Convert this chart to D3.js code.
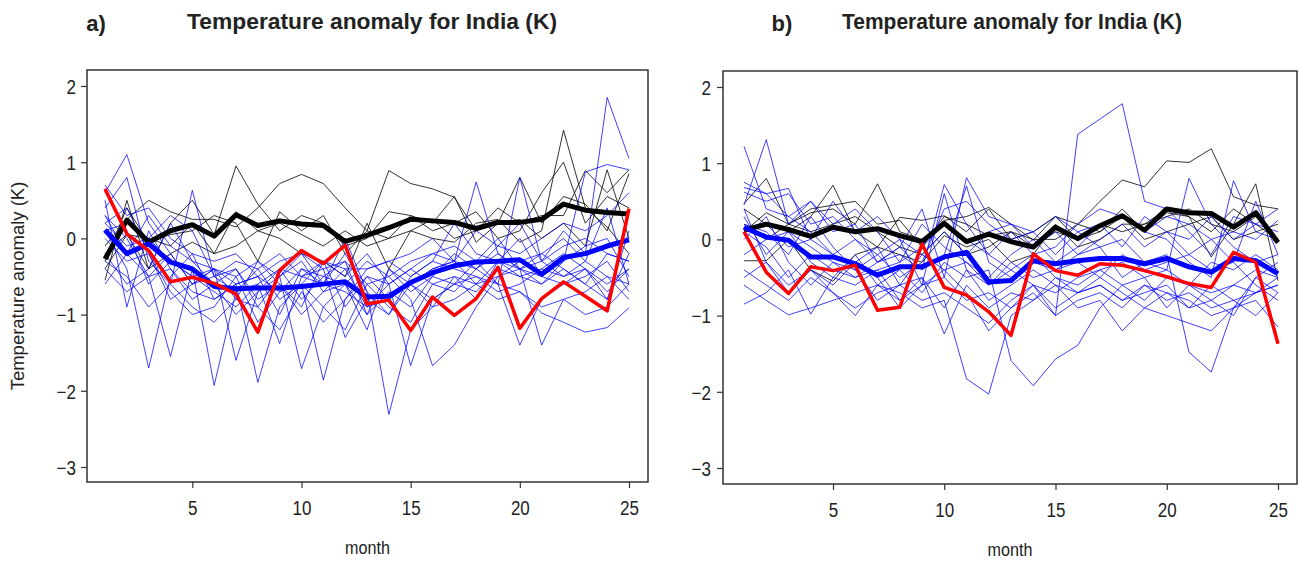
<!DOCTYPE html>
<html>
<head>
<meta charset="utf-8">
<script src="https://cdn.jsdelivr.net/npm/d3@7"></script>
<style>
  html, body { margin: 0; padding: 0; background: #fff; }
  svg { display: block; }
  text { font-family: "Liberation Sans", Arial, sans-serif; fill: #222; }
</style>
</head>
<body>
<svg id="chart" width="1299" height="561"></svg>
<script>
// ---- data -------------------------------------------------------------
const months = d3.range(1, 26);
const xTickValues = [5, 10, 15, 20, 25];
const yTickValues = [-3, -2, -1, 0, 1, 2];

// Panel a
const obsA = [0.65, 0.06, -0.16, -0.57, -0.51, -0.59, -0.73, -1.23, -0.42, -0.16, -0.33, -0.09, -0.86, -0.81, -1.21, -0.77, -1.01, -0.79, -0.38, -1.18, -0.79, -0.57, -0.76, -0.95, 0.39];
const ctrlMeanA = [-0.27, 0.24, -0.05, 0.10, 0.18, 0.03, 0.31, 0.17, 0.23, 0.19, 0.17, -0.04, 0.04, 0.14, 0.25, 0.23, 0.21, 0.13, 0.21, 0.21, 0.25, 0.45, 0.37, 0.34, 0.32];
const ensMeanA = [0.11, -0.20, -0.07, -0.31, -0.40, -0.63, -0.66, -0.65, -0.65, -0.63, -0.60, -0.57, -0.77, -0.76, -0.58, -0.45, -0.36, -0.31, -0.30, -0.28, -0.47, -0.25, -0.20, -0.10, -0.02];
const ctrlMembersA = [
  [-0.55, 0.50, -0.40, 0.20, 0.50, 0.05, 0.95, 0.45, 0.10, 0.30, 0.20, -0.10, 0.00, 0.35, 0.30, 0.20, 0.55, -0.05, 0.20, 0.80, 0.20, 0.55, 0.45, 0.10, 0.85],
  [-0.10, 0.25, 0.50, 0.35, 0.25, 0.25, 0.15, 0.40, 0.72, 0.84, 0.72, 0.40, 0.10, 0.00, 0.30, 0.10, 0.20, 0.35, 0.00, 0.10, 0.60, 1.00, 0.20, 0.55, 0.40],
  [-0.30, 0.40, -0.05, 0.05, 0.10, 0.30, 0.20, -0.30, 0.35, 0.10, 0.30, -0.20, 0.10, 0.89, 0.72, 0.65, 0.54, 0.10, 0.40, 0.20, 0.30, 0.30, 0.89, 0.60, 0.90],
  [-0.40, 0.05, 0.00, -0.10, 0.20, -0.20, 0.35, 0.10, 0.20, 0.05, -0.10, 0.10, -0.10, 0.00, 0.10, 0.00, -0.05, 0.20, 0.25, -0.05, 0.10, 1.42, 0.40, 0.15, -0.20],
  [-0.20, 0.05, -0.40, -0.20, -0.05, -0.20, -0.10, 0.10, 0.00, -0.20, -0.30, -0.50, 0.20, -0.40, 0.10, 0.25, 0.00, 0.10, 0.20, 0.25, 0.00, 0.20, -0.10, 0.90, 0.00]
];
const ensMembersA = [
  [0.60, 1.10, 0.20, -0.20, -0.60, -0.40, -0.80, -0.30, -0.60, -0.90, -0.30, -0.50, -0.20, -0.60, -0.40, -0.20, -0.10, -0.30, 0.00, -0.40, -0.30, 0.10, -0.20, 1.85, 1.05],
  [0.40, 0.80, -0.30, -0.60, 0.63, -0.50, -0.40, -0.90, -0.50, -0.30, -0.70, -0.40, -0.90, -0.80, -0.60, -0.40, -0.30, 0.74, -0.20, -0.40, -0.60, -0.30, 0.87, 0.97, 0.90],
  [0.10, -0.40, -1.70, -0.50, -0.20, -0.80, -0.60, -0.50, -1.00, -0.40, -0.60, 0.00, -0.70, -2.31, -1.20, -0.90, -0.50, -0.60, -0.30, -0.50, -0.40, -0.20, -0.40, -0.60, -0.40],
  [-0.60, -0.20, -0.50, -1.55, -0.40, -1.93, -0.70, -0.40, -0.80, -0.60, -0.30, -0.90, -0.50, -0.60, -1.67, -0.80, -0.60, -0.30, -0.60, -1.40, -0.80, -0.60, -0.50, -0.30, -0.70],
  [0.20, -0.10, 0.00, -0.30, -0.50, -0.40, -1.60, -0.70, -0.50, -1.71, -0.90, -0.60, -0.30, -0.50, -0.80, -1.67, -1.40, -0.90, -0.50, -0.40, -1.40, -0.80, -0.70, -0.50, -0.60],
  [0.30, 0.00, -0.50, -0.40, -0.70, -0.80, -0.60, -1.89, -0.90, -0.60, -1.86, -0.80, -0.40, -0.30, -0.50, -0.30, -0.40, -0.50, -0.60, -0.70, -0.98, -1.10, -1.23, -1.17, -0.91],
  [0.00, -0.30, -0.20, -0.80, -0.60, -0.50, -0.70, -0.60, -1.38, -0.50, -0.40, -1.30, -0.80, -1.00, -0.50, -0.30, 0.20, -0.20, -0.30, 0.00, -0.50, -0.30, -0.10, 0.00, -0.50],
  [0.70, 0.30, 0.40, 0.00, -0.20, -0.30, -0.20, -0.50, -0.30, -0.20, -0.40, -0.30, -0.60, -0.50, -0.30, -0.20, -0.30, 0.10, -0.10, -0.20, 0.00, 0.20, 0.10, 0.30, 0.60],
  [-0.20, -0.60, -0.40, 0.20, -0.30, -0.60, -0.40, -0.80, -0.60, -1.00, -0.70, -0.60, -1.20, -0.40, -0.70, -0.50, -0.20, -0.40, -0.60, 0.80, -0.30, -0.50, -0.40, -0.80, 0.10],
  [0.50, -0.90, 0.10, -0.40, -0.80, -0.60, -1.00, -0.70, -0.40, -0.80, -0.50, -0.30, -1.00, -0.70, -0.90, -0.50, -0.60, -0.70, -0.40, -0.50, -0.60, -0.40, -0.60, -0.20, -0.30],
  [0.20, 0.40, -0.20, -0.70, -1.00, -0.90, -0.50, -1.10, -0.70, -0.60, -0.90, -1.20, -0.60, -0.90, -1.10, -0.60, -0.70, -0.40, -0.20, -0.40, -0.20, 0.00, -0.30, -0.50, -0.80],
  [-0.30, -0.50, -0.90, -0.60, -0.90, -1.10, -0.80, -0.90, -1.20, -0.70, -1.10, -0.80, -0.50, -0.80, -0.60, -0.90, -0.80, -0.60, -0.80, -0.70, -0.90, -0.80, -1.00, -0.90, -0.60],
  [0.10, 0.20, 0.00, 0.30, 0.10, -0.50, -0.30, -0.40, -0.20, -0.50, -0.30, -0.40, -0.40, -0.30, -0.20, 0.00, -0.30, -0.40, -0.10, 0.20, -0.30, -0.10, 0.00, -0.20, -0.30],
  [0.65, 0.10, -0.60, -0.30, -0.50, -0.70, -0.90, -0.60, -0.40, -0.50, -0.60, -0.70, -0.90, -0.60, -0.40, -0.60, -0.50, -0.80, -0.30, -0.40, -0.50, -0.60, -0.40, -0.70, -0.40],
  [-0.40, -0.70, -0.50, -0.20, -0.60, -0.40, -0.50, -0.30, -0.50, -0.20, -0.60, -0.20, -0.70, -1.00, -0.60, -0.40, -0.30, -0.60, -0.50, -0.30, -0.20, -0.40, -0.60, -0.80, -0.20],
  [0.30, -0.20, 0.30, -0.10, -0.30, -0.40, -0.60, -0.50, -0.70, -0.40, -0.50, -0.60, -1.00, -0.40, -0.60, -0.80, -0.60, -0.50, -0.70, -0.60, -0.40, -0.50, -0.30, 0.40, -0.60]
];

// Panel b
const obsB = [0.10, -0.43, -0.71, -0.36, -0.41, -0.34, -0.93, -0.89, -0.06, -0.63, -0.73, -0.95, -1.26, -0.19, -0.41, -0.47, -0.32, -0.34, -0.41, -0.49, -0.58, -0.63, -0.17, -0.30, -1.37];
const ctrlMeanB = [0.12, 0.20, 0.13, 0.04, 0.16, 0.10, 0.14, 0.05, -0.03, 0.21, -0.03, 0.07, -0.03, -0.10, 0.16, 0.01, 0.18, 0.31, 0.12, 0.40, 0.35, 0.34, 0.16, 0.35, -0.04];
const ensMeanB = [0.16, 0.03, -0.01, -0.23, -0.23, -0.32, -0.47, -0.36, -0.36, -0.23, -0.17, -0.56, -0.54, -0.28, -0.32, -0.28, -0.25, -0.25, -0.32, -0.25, -0.36, -0.43, -0.25, -0.28, -0.45];
const ctrlMembersB = [
  [0.47, 0.80, 0.20, 0.35, 0.40, 0.20, 0.73, 0.10, 0.00, 0.25, 0.30, 0.42, 0.20, -0.01, 0.30, 0.20, 0.50, 0.78, 0.69, 1.03, 1.01, 1.19, 0.56, 0.45, 0.40],
  [-0.28, -0.28, 0.00, -0.40, -0.55, -0.20, -0.10, 0.29, 0.25, 0.31, 0.10, 0.40, 0.00, 0.10, 0.30, 0.00, 0.10, 0.40, 0.10, 0.35, 0.30, -0.23, 0.20, 0.73, -0.54],
  [0.40, 0.20, 0.10, 0.30, 0.71, 0.10, -0.10, -0.20, -0.30, 0.05, -0.10, 0.00, -0.30, -0.20, 0.20, -0.10, 0.00, 0.20, 0.20, 0.30, 0.40, 0.20, 0.10, 0.30, 0.00],
  [0.10, 0.35, 0.20, 0.40, 0.45, 0.50, 0.20, 0.25, -0.10, 0.30, 0.20, 0.05, 0.10, 0.00, 0.00, 0.20, 0.10, 0.30, 0.00, 0.10, 0.20, 0.30, 0.00, 0.10, 0.20],
  [0.20, 0.00, 0.20, 0.10, 0.20, 0.30, 0.10, -0.10, -0.20, 0.10, -0.20, -0.10, 0.10, -0.10, 0.10, 0.00, 0.20, 0.10, 0.20, 0.40, 0.30, 0.10, 0.40, 0.20, 0.00]
];
const ensMembersB = [
  [1.22, 0.40, 0.30, 0.10, -0.20, 0.00, -0.30, -0.10, -0.40, 0.72, 0.20, -0.20, -0.40, -0.60, -1.00, 1.38, 1.58, 1.78, 0.50, 0.40, 0.10, -0.20, 0.30, 0.20, 0.40],
  [0.45, 1.31, 0.20, 0.50, 0.10, 0.20, -0.30, -0.10, 0.40, -0.50, 0.81, 0.30, 0.20, 0.10, 0.30, 0.10, 0.20, 0.30, 0.10, 0.00, -0.30, -0.50, 0.77, 0.10, 0.00],
  [0.75, 0.60, 0.67, 0.00, -0.20, -0.30, -0.10, -0.60, -0.20, -0.40, -0.30, -0.60, -0.30, -0.50, -0.40, -0.20, -0.10, -0.50, -0.30, -0.40, 0.80, 0.20, -0.10, -0.30, -0.20],
  [-0.85, -0.70, -0.40, -0.98, -0.50, -0.60, -0.40, -0.80, -0.50, -1.24, -0.60, -0.90, -0.70, -0.80, -0.50, -0.70, -0.60, -0.80, -0.60, -0.70, -0.90, -0.60, -0.80, -0.70, -0.60],
  [-0.60, -0.80, -0.99, -0.90, -0.80, -0.70, -0.60, -0.70, -0.90, -0.80, -1.83, -2.03, -1.00, -0.80, -0.60, -0.90, -0.80, -1.20, -0.90, -0.70, -0.80, -1.00, -0.90, -0.80, -1.15],
  [0.30, -0.20, 0.10, -0.30, -0.50, -0.20, -0.60, -0.40, -0.70, -0.30, -0.50, -0.40, -1.59, -1.92, -1.57, -1.39, -0.90, -0.60, -0.80, -0.50, -0.60, -0.70, -0.60, -0.40, -0.50],
  [0.62, 0.50, 0.60, 0.20, 0.30, 0.00, -0.20, -0.50, -0.30, 0.40, 0.50, 0.20, 0.00, 0.10, -0.20, 0.10, -0.10, 0.00, -0.30, -0.20, -1.48, -1.74, -0.90, -0.50, -0.70],
  [-0.50, -0.30, -0.60, -0.40, -0.70, -1.00, -0.60, -0.80, -0.60, -0.40, -0.70, -1.20, -0.90, -0.60, -0.70, -0.50, -0.40, -0.60, -0.50, -0.90, -0.60, -0.80, -1.00, -0.50, -0.30],
  [0.10, -0.10, -0.50, -0.20, -0.40, -0.50, -0.30, -0.20, -0.40, -0.20, 0.70, -0.30, -0.50, -0.30, -0.40, -0.30, -0.50, -0.20, -0.40, -0.30, -0.20, -0.40, -0.30, -0.60, -0.80],
  [0.20, 0.10, -0.20, 0.30, -0.10, -0.40, -0.20, 0.00, -0.60, 0.60, -0.40, -0.80, -0.60, -0.40, -0.60, -0.70, -0.50, -0.70, -0.90, -1.00, -1.10, -1.20, -0.90, -0.70, -0.60],
  [0.00, 0.30, -0.30, -0.60, -0.30, -0.40, -0.80, -0.60, -0.50, -0.90, -0.40, -0.60, -0.40, -0.20, -0.50, -0.60, -0.40, -0.30, -0.50, -0.40, -0.60, -0.30, -0.40, -0.20, -0.40],
  [-0.20, 0.00, 0.10, -0.10, -0.30, -0.50, -0.40, -0.30, 0.20, -0.10, -0.30, -0.50, -0.20, 0.00, -0.30, -0.10, 0.20, -0.10, 0.30, 0.10, -0.20, 0.00, -0.30, 0.50, -0.20],
  [0.68, 0.60, 0.30, 0.50, 0.20, 0.40, 0.10, -0.30, -0.10, 0.20, 0.00, -0.20, 0.10, -0.20, -0.10, 0.20, 0.40, 0.30, 0.10, 0.30, 0.20, 0.00, 0.10, 0.00, 0.25],
  [0.40, -0.30, -0.70, -0.40, -0.60, -0.30, -0.50, -0.90, -0.60, -0.50, -0.80, -0.70, -0.90, -0.70, -1.00, -0.80, -0.70, -0.90, -0.60, -0.80, -0.70, -0.90, -0.80, -1.00, -0.70],
  [0.15, 0.20, -0.10, 0.00, 0.50, 0.10, 0.30, 0.00, -0.20, 0.10, -0.20, 0.10, 0.20, -0.10, 0.10, -0.20, 0.00, 0.20, -0.10, 0.10, 0.00, 0.30, 0.00, 0.20, 0.10],
  [-0.40, -0.60, -0.80, -0.50, -0.70, -0.90, -0.70, -0.60, -0.80, -0.70, -0.90, -1.10, -0.80, -0.60, -0.90, -0.70, -0.60, -0.80, -0.70, -0.60, -0.90, -0.80, -0.60, -0.70, -0.50]
];

const titleText = "Temperature anomaly for India (K)";
const xLabelText = "month";
const yLabelText = "Temperature anomaly (K)";

// ---- drawing ----------------------------------------------------------
const svg = d3.select("#chart");

// squeeze a text element horizontally to give it a narrow, condensed look
function condense(sel, factor) {
  sel.each(function () {
    const w = this.getComputedTextLength();
    d3.select(this).attr("textLength", w * factor).attr("lengthAdjust", "spacingAndGlyphs");
  });
}

const panels = [
  { tag: "a)", tagX: 96, titleX: 372, titleW: 370,
    frame: { left: 87, right: 648, top: 70, bottom: 482 },
    xRange: [105, 629], yRange: [467, 86], tickLabelX: 76, monthY: 554, showYLabel: true,
    obs: obsA, ctrlMean: ctrlMeanA, ensMean: ensMeanA, ctrl: ctrlMembersA, ens: ensMembersA },
  { tag: "b)", tagX: 782, titleX: 1012, titleW: 340,
    frame: { left: 723, right: 1297, top: 71, bottom: 484 },
    xRange: [744, 1278], yRange: [468, 87], tickLabelX: 711, monthY: 556, showYLabel: false,
    obs: obsB, ctrlMean: ctrlMeanB, ensMean: ensMeanB, ctrl: ctrlMembersB, ens: ensMembersB }
];

panels.forEach(p => {
  const g = svg.append("g");
  const x = d3.scaleLinear().domain([1, 25]).range(p.xRange);
  const y = d3.scaleLinear().domain([-3, 2]).range(p.yRange);
  const line = d3.line().x((d, i) => x(months[i])).y(d => y(d));

  const plot = g.append("g");
  // control members (thin black)
  plot.selectAll(".ctrl").data(p.ctrl).join("path")
    .attr("d", line).attr("fill", "none")
    .attr("stroke", "#000").attr("stroke-width", 1).attr("stroke-opacity", 0.8);
  // ensemble members (thin blue)
  plot.selectAll(".ens").data(p.ens).join("path")
    .attr("d", line).attr("fill", "none")
    .attr("stroke", "#0000ff").attr("stroke-width", 1).attr("stroke-opacity", 0.75);
  // means and observations
  plot.append("path").attr("d", line(p.ctrlMean)).attr("fill", "none")
    .attr("stroke", "#000").attr("stroke-width", 5).attr("stroke-linejoin", "round");
  plot.append("path").attr("d", line(p.ensMean)).attr("fill", "none")
    .attr("stroke", "#0000ff").attr("stroke-width", 5).attr("stroke-linejoin", "round");
  plot.append("path").attr("d", line(p.obs)).attr("fill", "none")
    .attr("stroke", "#ff0000").attr("stroke-width", 3.5).attr("stroke-linejoin", "round");

  // frame
  const f = p.frame;
  g.append("rect").attr("x", f.left).attr("y", f.top)
    .attr("width", f.right - f.left).attr("height", f.bottom - f.top)
    .attr("fill", "none").attr("stroke", "#333").attr("stroke-width", 1.5);

  // y axis
  const yAxis = d3.axisLeft(y).tickValues(yTickValues).tickSize(6).tickPadding(4)
    .tickFormat(d3.format("d"));
  const ya = g.append("g").attr("transform", `translate(${f.left},0)`).call(yAxis);
  ya.select(".domain").remove();
  ya.selectAll(".tick line").attr("stroke", "#333").attr("stroke-width", 1.2);
  ya.selectAll(".tick text").attr("x", p.tickLabelX - f.left).attr("dy", "0.36em")
    .attr("font-size", 20).attr("fill", "#222")
    .attr("font-family", "'Liberation Sans', Arial, sans-serif")
    .call(condense, 0.85);

  // x axis
  const xAxis = d3.axisBottom(x).tickValues(xTickValues).tickSize(6).tickPadding(13)
    .tickFormat(d3.format("d"));
  const xa = g.append("g").attr("transform", `translate(0,${f.bottom})`).call(xAxis);
  xa.select(".domain").remove();
  xa.selectAll(".tick line").attr("stroke", "#333").attr("stroke-width", 1.2);
  xa.selectAll(".tick text").attr("font-size", 20).attr("fill", "#222")
    .attr("font-family", "'Liberation Sans', Arial, sans-serif")
    .call(condense, 0.85);

  // axis titles
  g.append("text").attr("x", (f.left + f.right) / 2).attr("y", p.monthY)
    .attr("text-anchor", "middle").attr("font-size", 19).text(xLabelText)
    .call(condense, 0.85);
  if (p.showYLabel) {
    g.append("text").attr("transform", `translate(24,${(f.top + f.bottom) / 2 + 10}) rotate(-90)`)
      .attr("text-anchor", "middle").attr("font-size", 18.5).text(yLabelText);
  }

  // panel tag and title
  g.append("text").attr("x", p.tagX).attr("y", 31).attr("text-anchor", "middle")
    .attr("font-size", 22).attr("font-weight", "bold").attr("fill", "#000")
    .text(p.tag);
  g.append("text").attr("x", p.titleX).attr("y", 29).attr("text-anchor", "middle")
    .attr("font-size", 22).attr("font-weight", "bold").attr("fill", "#000")
    .attr("textLength", p.titleW).attr("lengthAdjust", "spacingAndGlyphs")
    .text(titleText);
});
</script>
</body>
</html>
